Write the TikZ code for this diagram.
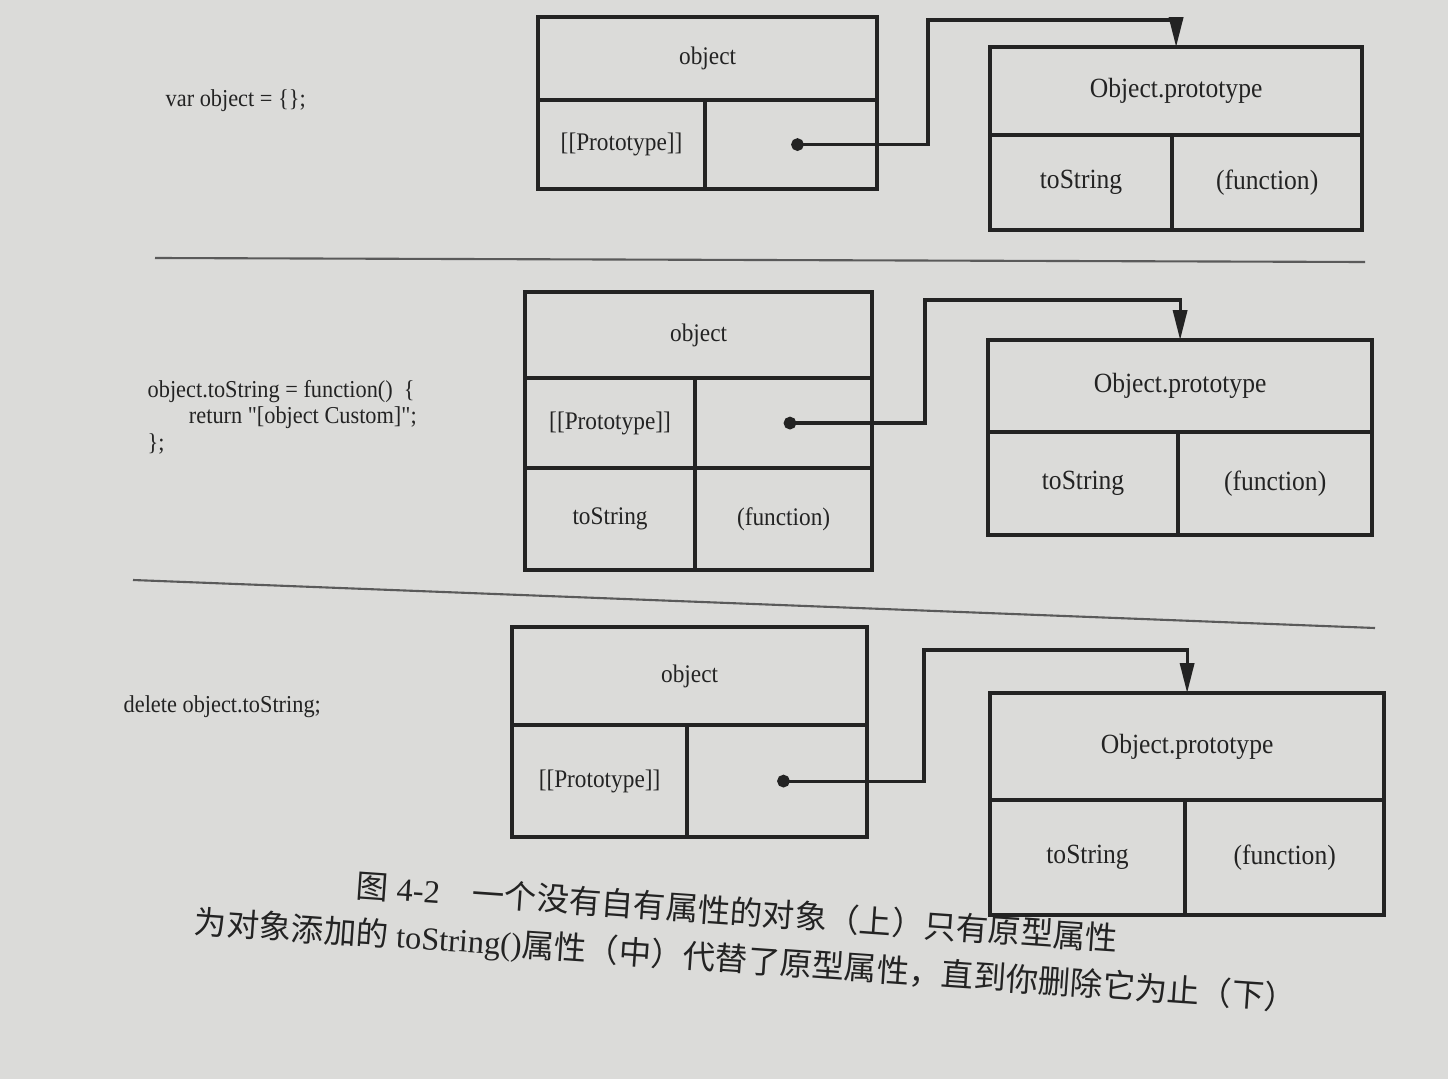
\documentclass[tikz,border=0pt]{standalone}
\usepackage{fontspec}
\setmainfont{Liberation Serif}
\newfontfamily\boxfont{Liberation Serif}[FakeStretch=0.92]
\newfontfamily\cjk{Noto Sans CJK SC}
\usetikzlibrary{arrows.meta,positioning}
\definecolor{paper}{RGB}{219,219,217}
\definecolor{ink}{RGB}{35,35,35}
\tikzset{
  field/.style={draw=ink, line width=1pt, anchor=north west, inner sep=0pt, outer sep=0pt, text=ink, font=\boxfont\fontsize{7.2}{9}\selectfont},
  protofield/.style={field, font=\boxfont\fontsize{7.9}{10}\selectfont},
  code/.style={anchor=west, align=left, inner sep=0pt, text=ink, font=\boxfont\fontsize{6.9}{7.5}\selectfont},
  link/.style={{Circle[length=3.6pt]}-{Triangle[length=8.5pt,width=4pt]}, draw=ink, line width=0.9pt},
  rule/.style={draw=ink!75, line width=0.6pt},
  caption/.style={anchor=west, inner sep=0pt, rotate=-4, text=ink, font=\fontsize{9.2}{11}\selectfont}
}

\begin{document}
\begin{tikzpicture}[x=0.01cm, y=-0.01cm]
  \useasboundingbox (0,0) rectangle (1448,1079);
  \fill[paper] (0,0) rectangle (1448,1079);

  % top: empty object
  \node[code] (decl) at (165,101) {var object = \{\};};
  \node[field, minimum width=3.39cm, minimum height=0.83cm] (obj1) at (538,17) {object};
  \node[field, minimum width=1.67cm, minimum height=0.89cm] (slot1) at (obj1.south west) {[[Prototype]]};
  \node[field, minimum width=1.72cm, minimum height=0.89cm] (ptr1) at (slot1.north east) {};
  \node[protofield, minimum width=3.72cm, minimum height=0.88cm] (proto1) at (990,47) {Object.prototype};
  \node[protofield, minimum width=1.82cm, minimum height=0.95cm] (key1) at (proto1.south west) {toString};
  \node[protofield, minimum width=1.90cm, minimum height=0.95cm] (val1) at (key1.north east) {(function)};
  \coordinate (bend1) at (928,20);
  \draw[link] (ptr1.center) -| (bend1) -| (proto1.north);

  \draw[rule] (155,258) -- (1365,262);

  % middle: own toString
  \node[code] (assign) at (147,417) {object.toString = function()\ \ \{\\\hspace{1.7em}return "[object Custom]";\\\};};
  \node[field, minimum width=3.47cm, minimum height=0.86cm] (obj2) at (525,292) {object};
  \node[field, minimum width=1.70cm, minimum height=0.90cm] (slot2) at (obj2.south west) {[[Prototype]]};
  \node[field, minimum width=1.77cm, minimum height=0.90cm] (ptr2) at (slot2.north east) {};
  \node[field, minimum width=1.70cm, minimum height=1.02cm] (own2) at (slot2.south west) {toString};
  \node[field, minimum width=1.77cm, minimum height=1.02cm] (fn2) at (own2.north east) {(function)};
  \node[protofield, minimum width=3.84cm, minimum height=0.92cm] (proto2) at (988,340) {Object.prototype};
  \node[protofield, minimum width=1.90cm, minimum height=1.03cm] (key2) at (proto2.south west) {toString};
  \node[protofield, minimum width=1.94cm, minimum height=1.03cm] (val2) at (key2.north east) {(function)};
  \coordinate (bend2) at (925,300);
  \draw[link] (ptr2.center) -| (bend2) -| (proto2.north);

  \draw[rule] (133,580) -- (1375,628);

  % bottom: after delete
  \node[code] (remove) at (123,707) {delete object.toString;};
  \node[field, minimum width=3.55cm, minimum height=0.98cm] (obj3) at (512,627) {object};
  \node[field, minimum width=1.75cm, minimum height=1.12cm] (slot3) at (obj3.south west) {[[Prototype]]};
  \node[field, minimum width=1.80cm, minimum height=1.12cm] (ptr3) at (slot3.north east) {};
  \node[protofield, minimum width=3.94cm, minimum height=1.07cm] (proto3) at (990,693) {Object.prototype};
  \node[protofield, minimum width=1.95cm, minimum height=1.15cm] (key3) at (proto3.south west) {toString};
  \node[protofield, minimum width=1.99cm, minimum height=1.15cm] (val3) at (key3.north east) {(function)};
  \coordinate (bend3) at (924,650);
  \draw[link] (ptr3.center) -| (bend3) -| (proto3.north);

  \node[caption] (cap1) at (356,885) {{\cjk 图} 4-2\quad{\cjk 一个没有自有属性的对象（上）只有原型属性}};
  \node[caption] (cap2) at (194,923) {{\cjk 为对象添加的} toString(){\cjk 属性（中）代替了原型属性，直到你删除它为止（下）}};
\end{tikzpicture}
\end{document}
